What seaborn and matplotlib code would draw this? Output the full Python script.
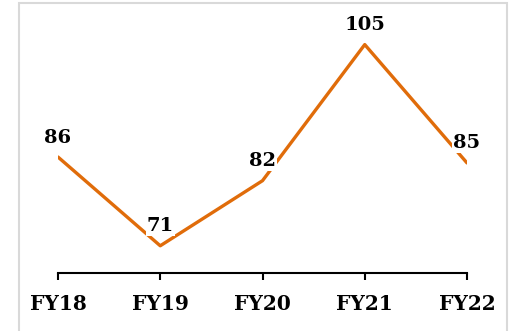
import matplotlib
matplotlib.use("Agg")
import matplotlib.pyplot as plt
from matplotlib.patches import Rectangle
import seaborn as sns
import pandas as pd

years = ["FY18", "FY19", "FY20", "FY21", "FY22"]
values = [86, 71, 82, 105, 85]

sns.set_theme(style="white")
plt.rcParams["font.family"] = ["DejaVu Serif"]

df = pd.DataFrame({"year": years, "value": values})

fig = plt.figure(figsize=(5.14, 3.31), dpi=100)
fig.patch.set_facecolor("white")

# light frame around the chart area
fig.patches.append(Rectangle((19 / 514, -0.05), (507 - 19) / 514, 1.05 - 3 / 331,
                             transform=fig.transFigure, fill=False,
                             edgecolor="#d9d9d9", linewidth=1.5))

ax = fig.add_axes([58 / 514, 1 - 273 / 331, (467 - 58) / 514, (273 - 15) / 331])
line_color = "#E06C0A"
sns.lineplot(data=df, x="year", y="value", ax=ax, color=line_color,
             linewidth=2.4, sort=False)

ax.set_xlim(0, len(years) - 1)
ax.set_ylim(66.4, 110)
ax.set_xlabel("")
ax.set_ylabel("")
ax.set_yticks([])
for side in ("left", "right", "top"):
    ax.spines[side].set_visible(False)
ax.spines["bottom"].set_color("black")
ax.spines["bottom"].set_linewidth(1.5)
ax.tick_params(axis="x", bottom=True, length=5, width=1.5, color="black",
               direction="out", pad=10)
for lbl in ax.get_xticklabels():
    lbl.set_fontweight("bold")
    lbl.set_fontsize(14.5)
    lbl.set_color("black")

for i, v in enumerate(values):
    ax.annotate(str(v), (i, v), xytext=(0, 14), textcoords="offset points",
                ha="center", va="center", fontsize=14, fontweight="bold",
                color="black", clip_on=False,
                bbox=dict(boxstyle="square,pad=0.05", fc="white", ec="none"))

fig.savefig("out.png", dpi=100, facecolor="white")
